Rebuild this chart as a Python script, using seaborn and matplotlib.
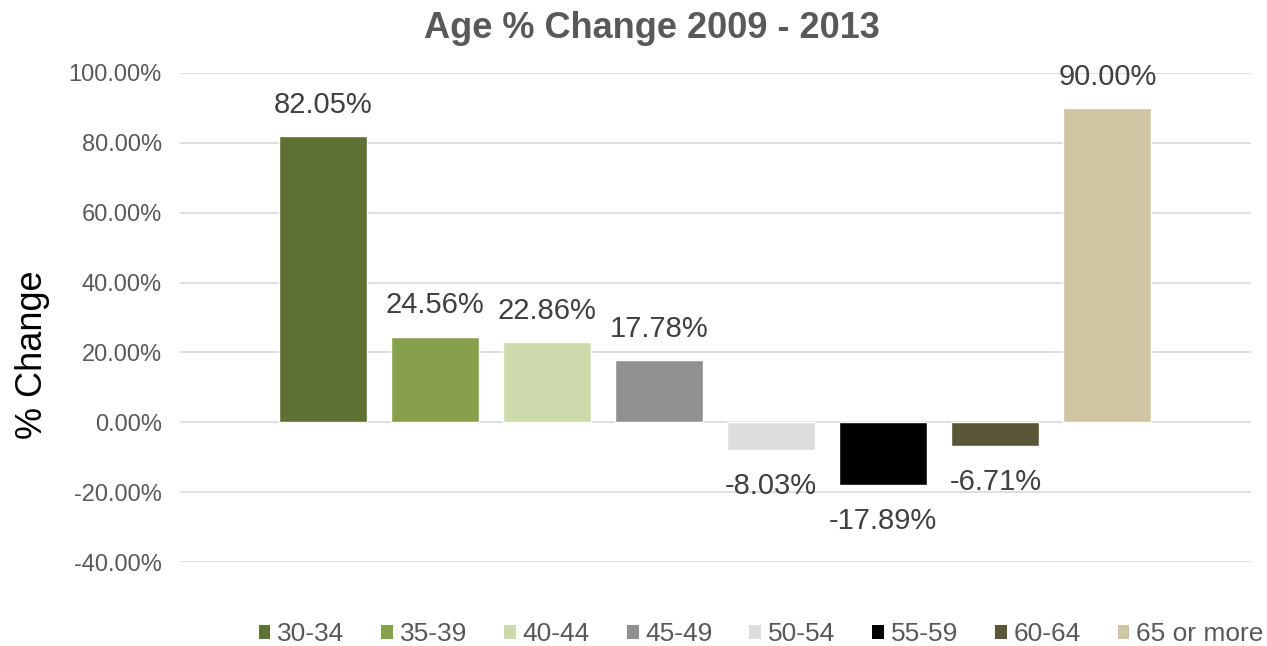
import matplotlib
matplotlib.use("Agg")
import matplotlib.pyplot as plt
import seaborn as sns
import pandas as pd
from matplotlib.ticker import FuncFormatter
from matplotlib.patches import Patch

categories = ["30-34", "35-39", "40-44", "45-49", "50-54", "55-59", "60-64", "65 or more"]
values = [82.05, 24.56, 22.86, 17.78, -8.03, -17.89, -6.71, 90.00]
colors = ["#5E7134", "#86A04C", "#CDDAAB", "#909090", "#DDDDDD", "#000000", "#5B5638", "#CFC5A3"]
yticks = [-40, -20, 0, 20, 40, 60, 80, 100]

sns.set_theme(style="white")
plt.rcParams["font.family"] = ["Liberation Sans", "DejaVu Sans"]

df = pd.DataFrame({"age": categories, "change": values})

fig = plt.figure(figsize=(12.67, 6.46), dpi=100)
ax = fig.add_axes([0.142, 0.130, 0.845, 0.757])

sns.barplot(data=df, x="age", y="change", hue="age", palette=colors,
            order=categories, hue_order=categories, dodge=False,
            width=0.786, legend=False, ax=ax, saturation=1)

ax.set_ylim(-40, 100)
ax.set_xlim(-1.277, 8.277)
ax.set_yticks(yticks)
ax.yaxis.set_major_formatter(FuncFormatter(lambda v, p: f"{v:.2f}%"))
ax.grid(axis="y", color="#D9D9D9", linewidth=1.2)
ax.set_axisbelow(True)
for s in ax.spines.values():
    s.set_visible(False)
ax.set_xticks([])
ax.set_xlabel("")
ax.set_ylabel("")
ax.tick_params(axis="y", labelsize=17, colors="#595959", length=0, pad=13)

fig.text(33 / 1267, 1 - 355 / 646, "% Change", rotation=90, ha="center", va="center",
         fontsize=26, color="black")

for i, v in enumerate(values):
    if v >= 0:
        ax.text(i, v + 8.9, f"{v:.2f}%", ha="center", va="center", fontsize=21, color="#404040")
    else:
        ax.text(i, v - 10.3, f"{v:.2f}%", ha="center", va="center", fontsize=21, color="#404040")

fig.text(652 / 1267, 1 - 28 / 646, "Age % Change 2009 - 2013", ha="center", va="center",
         fontsize=26, fontweight="bold", color="#595959")

handles = [Patch(facecolor=c, edgecolor="none") for c in colors]
fig.legend(handles, categories, loc="center", bbox_to_anchor=(761 / 1267, 1 - 634 / 646), ncol=8,
           frameon=False, fontsize=19, labelcolor="#595959", handlelength=0.45, handleheight=0.45,
           handletextpad=0.25, columnspacing=1.4, borderpad=0, borderaxespad=0)

fig.savefig("out.png", dpi=100)
